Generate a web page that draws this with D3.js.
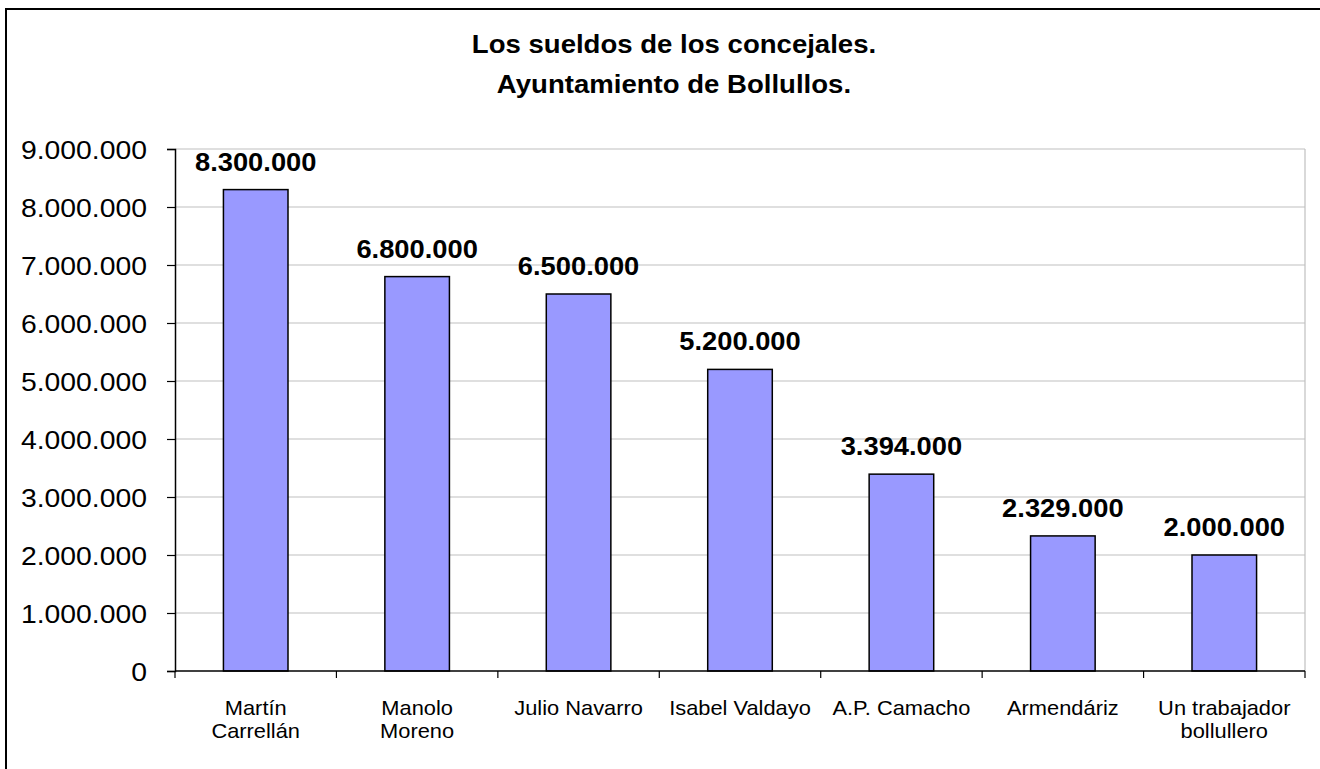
<!DOCTYPE html>
<html><head><meta charset="utf-8">
<script src="https://cdn.jsdelivr.net/npm/d3@7"></script>
<style>body{margin:0;background:#fff}svg{display:block}</style>
</head><body>
<svg id="c" width="1320" height="769"></svg>
<script>
const titleLines = ["Los sueldos de los concejales.", "Ayuntamiento de Bollullos."];
const categories = ["Martín Carrellán", "Manolo Moreno", "Julio Navarro", "Isabel Valdayo", "A.P. Camacho", "Armendáriz", "Un trabajador bollullero"];
const categoryLines = [["Martín","Carrellán"],["Manolo","Moreno"],["Julio Navarro"],["Isabel Valdayo"],["A.P. Camacho"],["Armendáriz"],["Un trabajador","bollullero"]];
const values = [8300000, 6800000, 6500000, 5200000, 3394000, 2329000, 2000000];
const yTicks = [0,1000000,2000000,3000000,4000000,5000000,6000000,7000000,8000000,9000000];

const fmt = d3.formatLocale({decimal:",", thousands:".", grouping:[3], currency:["","€"]}).format(",d");
const svg = d3.select("#c");
const font = "'Liberation Sans', Arial, sans-serif";
const m = {l:175, r:1305, t:149, b:671};

function stretch(sel, f){
  sel.each(function(){
    const w = this.getComputedTextLength();
    d3.select(this).attr("textLength", w*f).attr("lengthAdjust","spacingAndGlyphs");
  });
}

svg.append("rect").attr("x",6).attr("y",9).attr("width",1400).attr("height",800)
  .attr("fill","#fff").attr("stroke","#000").attr("stroke-width",2);

const x = d3.scaleBand().domain(categories).range([m.l, m.r]).paddingInner(0.6).paddingOuter(0.3);
const xb = d3.scaleBand().domain(categories).range([m.l, m.r]);
const y = d3.scaleLinear().domain([0, 9000000]).range([m.b, m.t]);

// grid
svg.append("g").selectAll("line").data(yTicks.filter(d=>d>0)).join("line")
  .attr("x1",m.l).attr("x2",m.r).attr("y1",d=>y(d)).attr("y2",d=>y(d))
  .attr("stroke","#c0c0c0").attr("stroke-width",1.2);
svg.append("line").attr("x1",m.r).attr("x2",m.r).attr("y1",m.t).attr("y2",m.b)
  .attr("stroke","#c0c0c0").attr("stroke-width",1.2);

// bars
svg.append("g").selectAll("rect").data(values).join("rect")
  .attr("x",(d,i)=>x(categories[i])).attr("width",x.bandwidth())
  .attr("y",d=>y(d)).attr("height",d=>y(0)-y(d))
  .attr("fill","#9999ff").attr("stroke","#000").attr("stroke-width",1.5);

// y axis
const ya = svg.append("g").attr("transform",`translate(${m.l},0)`)
  .call(d3.axisLeft(y).tickValues(yTicks).tickFormat(fmt).tickSize(8).tickPadding(20));
ya.select(".domain").attr("stroke","#000").attr("stroke-width",1.5);
ya.selectAll(".tick line").attr("stroke","#000").attr("stroke-width",1.2);
ya.selectAll(".tick text").attr("font-family",font).attr("font-size",26).attr("fill","#000").attr("dy","0.36em");
stretch(ya.selectAll(".tick text"), 1.09);

// x axis
svg.append("line").attr("x1",m.l).attr("x2",m.r).attr("y1",m.b).attr("y2",m.b).attr("stroke","#000").attr("stroke-width",1.5);
svg.append("g").selectAll("line").data(categories.concat(["end"])).join("line")
  .attr("x1",(d,i)=>i<categories.length?xb(d):m.r).attr("x2",(d,i)=>i<categories.length?xb(d):m.r)
  .attr("y1",m.b).attr("y2",m.b+7).attr("stroke","#000").attr("stroke-width",1.2);

const cl = svg.append("g").selectAll("text").data(categoryLines).join("text")
  .attr("font-family",font).attr("font-size",21).attr("text-anchor","middle").attr("fill","#000");
cl.each(function(lines,i){
  const t = d3.select(this);
  lines.forEach((s,j)=>{
    t.append("tspan").attr("x",xb(categories[i])+xb.bandwidth()/2).attr("y",715+j*22.5).text(s);
  });
});
stretch(cl.selectAll("tspan"), 1.04);

// data labels
const dl = svg.append("g").selectAll("text").data(values).join("text")
  .attr("x",(d,i)=>x(categories[i])+x.bandwidth()/2).attr("y",d=>y(d)-19)
  .attr("text-anchor","middle").attr("font-family",font).attr("font-weight","bold")
  .attr("font-size",26).attr("fill","#000").text(d=>fmt(d));
stretch(dl, 1.05);

// title
const tt = svg.append("g").selectAll("text").data(titleLines).join("text")
  .attr("x",674).attr("y",(d,i)=>53+i*40).attr("text-anchor","middle")
  .attr("font-family",font).attr("font-weight","bold").attr("font-size",26).attr("fill","#000").text(d=>d);
stretch(tt, 1.06);
</script>
</body></html>
